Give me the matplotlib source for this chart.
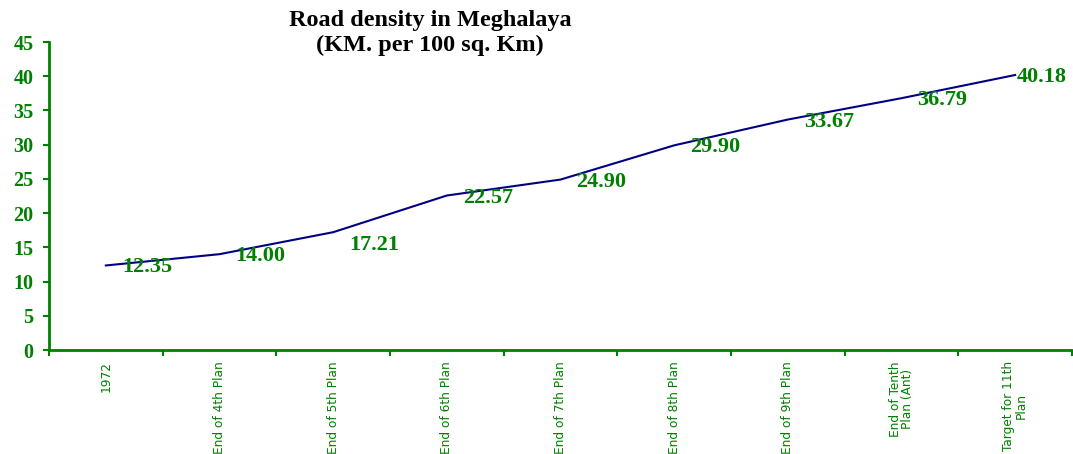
import matplotlib.pyplot as plt
import numpy as np

# Data
stages = ["1972", "End of 4th Plan", "End of 5th Plan", "End of 6th Plan",
          "End of 7th Plan", "End of 8th Plan", "End of 9th Plan",
          "End of Tenth\nPlan (Ant)", "Target for 11th\nPlan"]
density = [12.35, 14.00, 17.21, 22.57, 24.90, 29.90, 33.67, 36.79, 40.18]

green = "#008000"
navy = "#000080"

fig = plt.figure(figsize=(10.73, 4.54), dpi=100)
ax = fig.add_axes([49 / 1073, 1 - 350 / 454, 1023 / 1073, 308 / 454])

x = np.arange(len(stages))
ax.plot(x, density, color=navy, linewidth=1.5)

# Data labels, to the right of each point
for i, v in enumerate(density):
    dx, dy = 16, -2
    if i == 2:
        dy = -13
    if i == len(density) - 1:
        dx = 2
    ax.annotate(f"{v:.2f}", (x[i], v), xytext=(dx * 0.72, dy * 0.72),
                textcoords="offset points", ha="left", va="center",
                fontsize=16, fontweight="bold", family="Liberation Serif",
                color=green)

ax.set_xlim(-0.5, len(stages) - 0.5)
ax.set_ylim(0, 45)
ax.set_yticks(range(0, 46, 5))
for lab in ax.get_yticklabels():
    lab.set_fontfamily("Liberation Serif")
    lab.set_fontweight("bold")
    lab.set_fontsize(14.5)
    lab.set_color(green)
ax.tick_params(axis="y", colors=green, length=4, width=1.5, pad=7, labelcolor=green)

# category boundaries as ticks, names at the centres
ax.set_xticks(np.arange(-0.5, len(stages), 1.0))
ax.set_xticklabels([])
ax.set_xticks(x, minor=True)
ax.set_xticklabels(stages, minor=True, rotation=90, va="top", ha="center",
                   family="DejaVu Sans", fontstretch="condensed",
                   fontsize=9.7, color=green, linespacing=0.95)
ax.tick_params(axis="x", which="major", colors=green, length=4, width=1.5)
ax.tick_params(axis="x", which="minor", length=0, pad=8)

for s in ["top", "right"]:
    ax.spines[s].set_visible(False)
for s in ["left", "bottom"]:
    ax.spines[s].set_color(green)
    ax.spines[s].set_linewidth(2)

fig.text(430 / 1073, 1 - 33 / 454, "Road density in Meghalaya\n(KM. per 100 sq. Km)",
         ha="center", va="center", fontsize=17.5, fontweight="bold",
         family="Liberation Serif", linespacing=1.25)

fig.savefig("out.png", dpi=100)
